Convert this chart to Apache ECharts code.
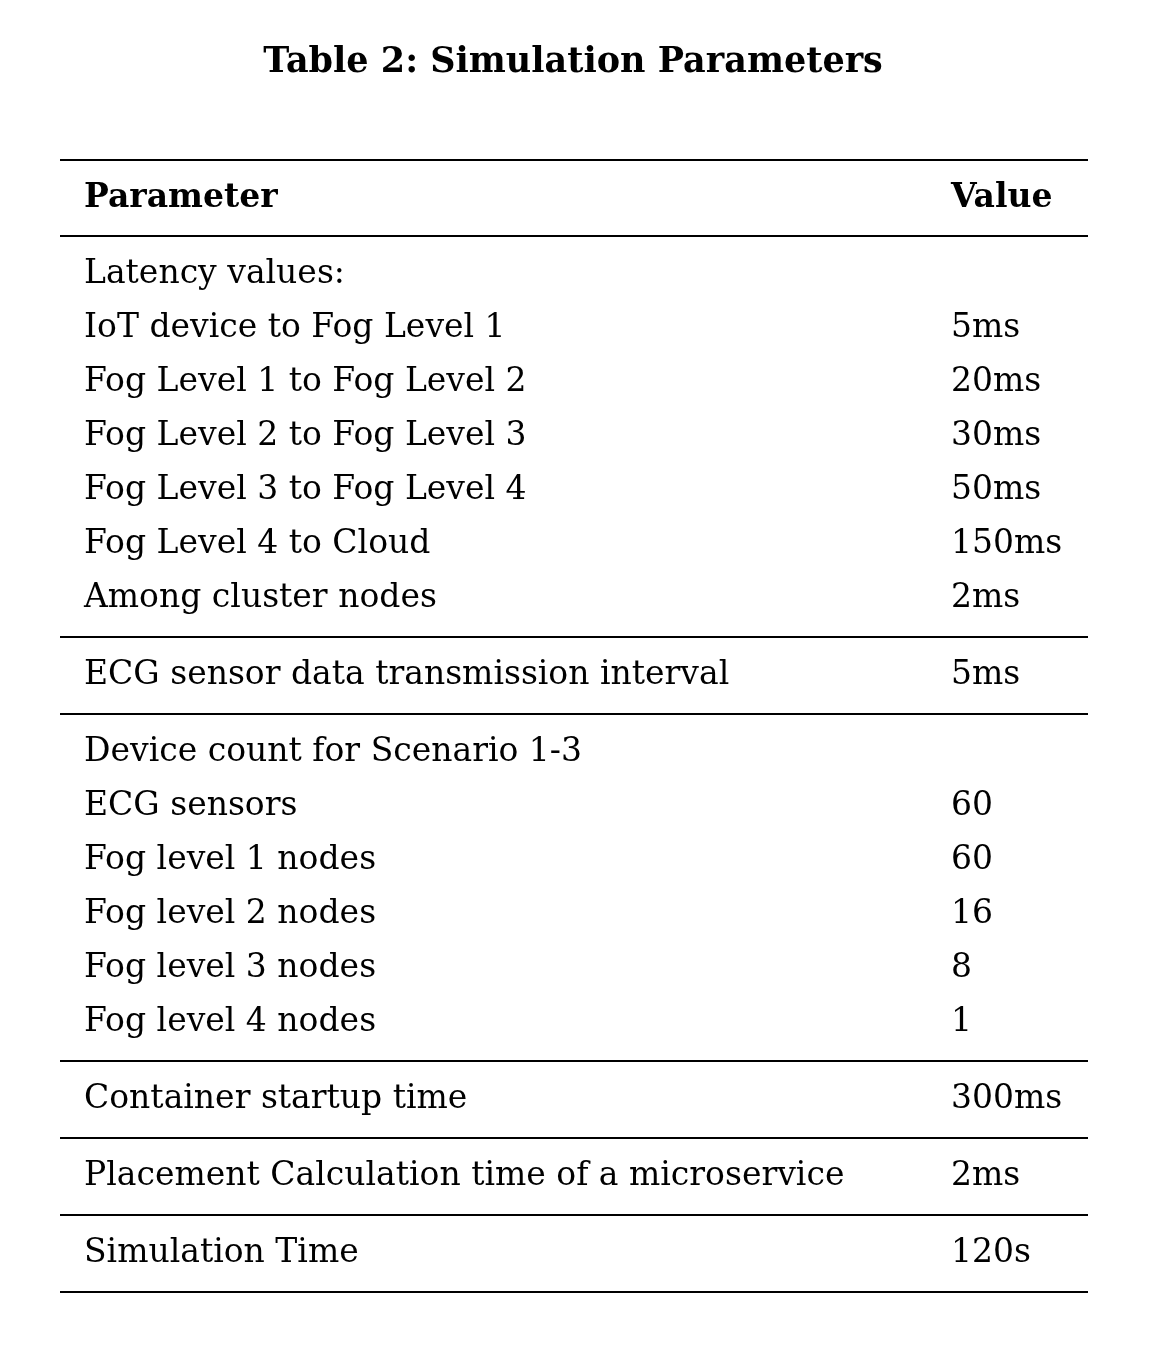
<!DOCTYPE html>
<html><head><meta charset="utf-8">
<script src="https://cdn.jsdelivr.net/npm/echarts@6/dist/echarts.min.js"></script>
<style>html,body{margin:0;background:#fff}#c{width:1158px;height:1360px}</style>
</head><body><div id="c"></div>
<script>
const title = "Table 2: Simulation Parameters";
const headers = ["Parameter", "Value"];
const group1Params = ["Latency values:", "IoT device to Fog Level 1", "Fog Level 1 to Fog Level 2", "Fog Level 2 to Fog Level 3", "Fog Level 3 to Fog Level 4", "Fog Level 4 to Cloud", "Among cluster nodes"];
const group1Values = ["", "5ms", "20ms", "30ms", "50ms", "150ms", "2ms"];
const group2Params = ["ECG sensor data transmission interval"];
const group2Values = ["5ms"];
const group3Params = ["Device count for Scenario 1-3", "ECG sensors", "Fog level 1 nodes", "Fog level 2 nodes", "Fog level 3 nodes", "Fog level 4 nodes"];
const group3Values = ["", "60", "60", "16", "8", "1"];
const group4Params = ["Container startup time"];
const group4Values = ["300ms"];
const group5Params = ["Placement Calculation time of a microservice"];
const group5Values = ["2ms"];
const group6Params = ["Simulation Time"];
const group6Values = ["120s"];
const groups = [[group1Params,group1Values],[group2Params,group2Values],[group3Params,group3Values],[group4Params,group4Values],[group5Params,group5Values],[group6Params,group6Values]];

const font = "'DejaVu Serif', 'Liberation Serif', serif";
const L = 60, R = 1088, xP = 84, xV = 951, rowH = 54.0, pad = 38.5;
const els = [];
function line(y){ els.push({type:'line', shape:{x1:L,y1:y,x2:R,y2:y}, style:{stroke:'#000', lineWidth:2}}); }
function text(x,y,s,bold){ els.push({type:'text', x:x, y:y, style:{text:s, font:(bold?'bold ':'')+'33px '+font, fill:'#000', verticalAlign:'middle'}}); }
els.push({type:'text', x:573, y:63, style:{text:title, font:'bold 35px '+font, fill:'#000', align:'center', verticalAlign:'middle'}});
line(160);
text(xP, 198, headers[0], true); text(xV, 198, headers[1], true);
let y = 236; line(y);
groups.forEach(([p,v])=>{
  let ry = y + pad;
  p.forEach((s,i)=>{ text(xP, ry, s); if(v[i]) text(xV, ry, v[i]); ry += rowH; });
  y = ry - rowH + pad; line(y);
});
const chart = echarts.init(document.getElementById('c'));
chart.setOption({backgroundColor:'#fff', graphic:{elements:els}});
</script></body></html>
